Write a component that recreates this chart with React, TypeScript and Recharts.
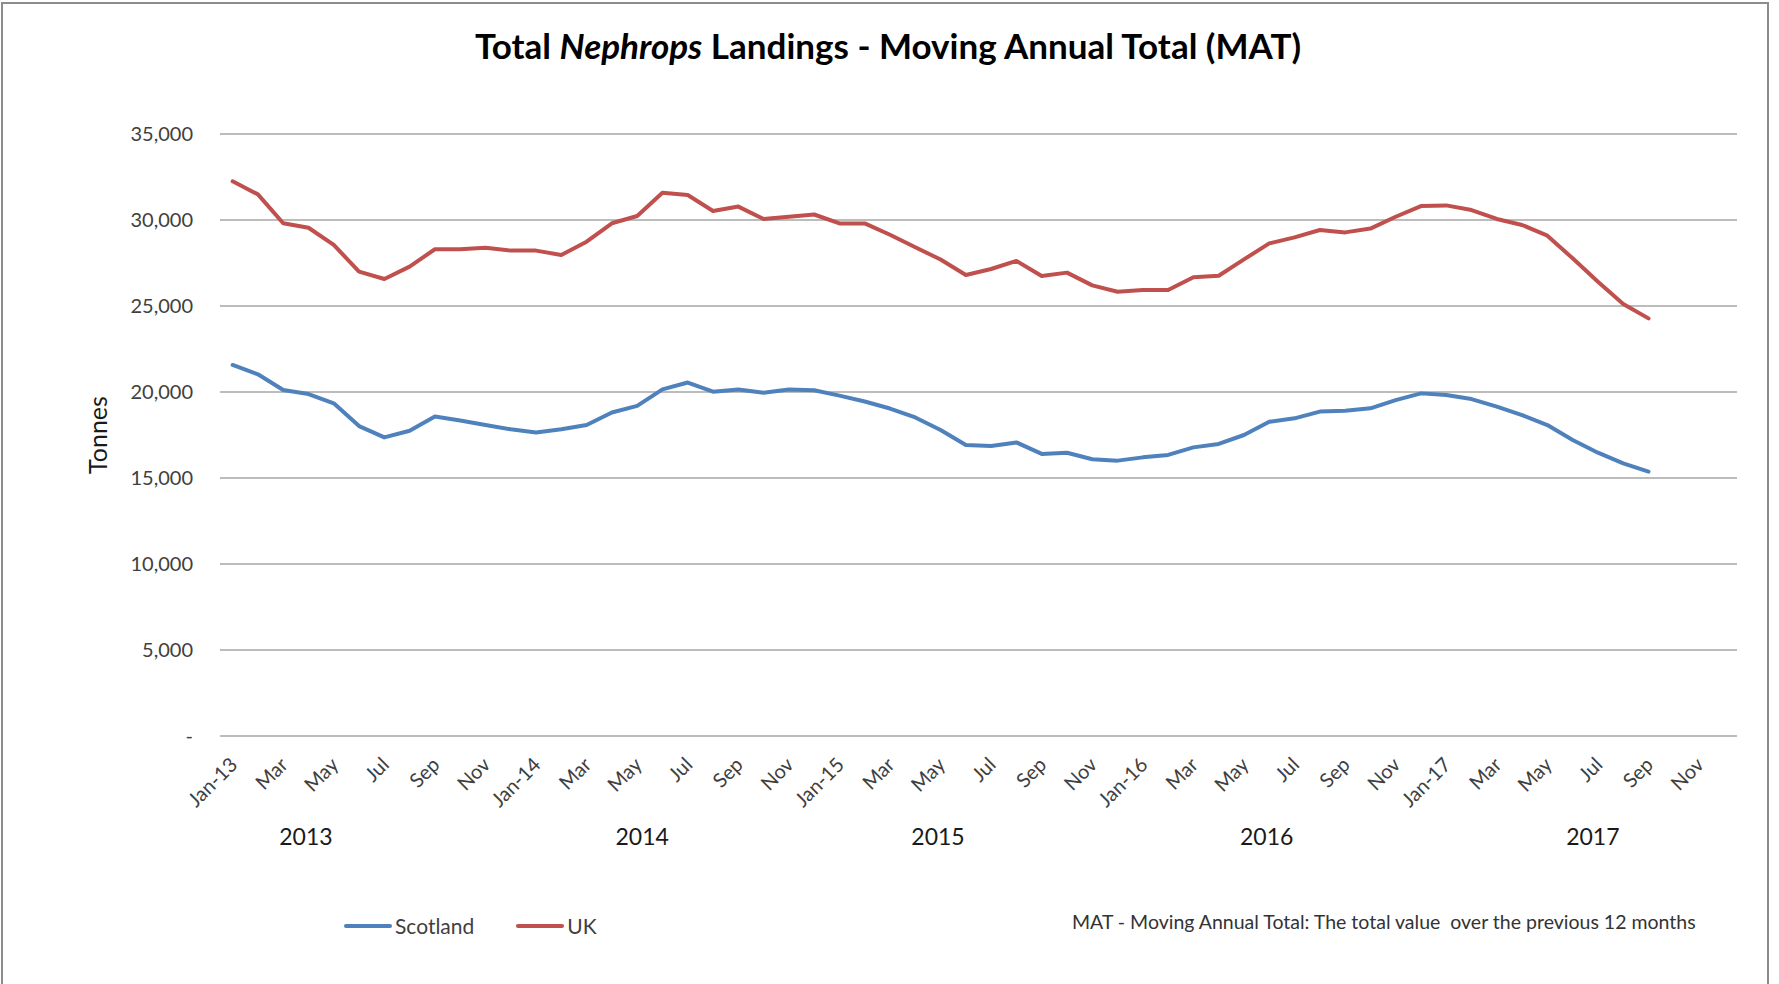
import React from 'react';
import { LineChart, Line, XAxis, YAxis, CartesianGrid, Legend } from 'recharts';

const FONT = "Lato, 'Open Sans', sans-serif";

const months = [
  'Jan-13', 'Feb-13', 'Mar-13', 'Apr-13', 'May-13', 'Jun-13', 'Jul-13', 'Aug-13', 'Sep-13', 'Oct-13', 'Nov-13', 'Dec-13',
  'Jan-14', 'Feb-14', 'Mar-14', 'Apr-14', 'May-14', 'Jun-14', 'Jul-14', 'Aug-14', 'Sep-14', 'Oct-14', 'Nov-14', 'Dec-14',
  'Jan-15', 'Feb-15', 'Mar-15', 'Apr-15', 'May-15', 'Jun-15', 'Jul-15', 'Aug-15', 'Sep-15', 'Oct-15', 'Nov-15', 'Dec-15',
  'Jan-16', 'Feb-16', 'Mar-16', 'Apr-16', 'May-16', 'Jun-16', 'Jul-16', 'Aug-16', 'Sep-16', 'Oct-16', 'Nov-16', 'Dec-16',
  'Jan-17', 'Feb-17', 'Mar-17', 'Apr-17', 'May-17', 'Jun-17', 'Jul-17', 'Aug-17', 'Sep-17', 'Oct-17', 'Nov-17', 'Dec-17',
];

// shown every second month
const tickLabels = [
  'Jan-13', 'Mar', 'May', 'Jul', 'Sep', 'Nov',
  'Jan-14', 'Mar', 'May', 'Jul', 'Sep', 'Nov',
  'Jan-15', 'Mar', 'May', 'Jul', 'Sep', 'Nov',
  'Jan-16', 'Mar', 'May', 'Jul', 'Sep', 'Nov',
  'Jan-17', 'Mar', 'May', 'Jul', 'Sep', 'Nov',
];

const scotland = [
  21570, 21030, 20120, 19880, 19340, 18020, 17360, 17750, 18570, 18340, 18080, 17830,
  17640, 17830, 18080, 18810, 19190, 20150, 20550, 20020, 20150, 19960, 20150, 20100,
  19790, 19450, 19040, 18520, 17790, 16920, 16860, 17070, 16400, 16470, 16090, 16010,
  16200, 16340, 16780, 16980, 17500, 18270, 18470, 18860, 18910, 19050, 19530, 19920,
  19830, 19590, 19150, 18660, 18080, 17210, 16470, 15850, 15370,
];

const uk = [
  32250, 31490, 29810, 29550, 28550, 27000, 26570, 27290, 28300, 28300, 28390, 28220,
  28220, 27970, 28740, 29810, 30230, 31580, 31450, 30520, 30780, 30060, 30190, 30320,
  29800, 29800, 29140, 28420, 27700, 26800, 27150, 27620, 26740, 26940, 26200, 25830,
  25930, 25930, 26670, 26760, 27710, 28640, 28990, 29420, 29280, 29500, 30190, 30810,
  30850, 30580, 30060, 29710, 29090, 27770, 26410, 25120, 24280,
];

const yTicks = [0, 5000, 10000, 15000, 20000, 25000, 30000, 35000];

const years = ['2013', '2014', '2015', '2016', '2017'];
// where each year caption sits, in month-index units
const yearAt = [2.9, 16.2, 27.9, 40.9, 53.8];

const noteText = 'MAT - Moving Annual Total: The total value  over the previous 12 months';

const rows = months.map((m, i) => ({
  idx: i,
  month: m,
  scotland: i < scotland.length ? scotland[i] : null,
  uk: i < uk.length ? uk[i] : null,
}));

const monthTicks = tickLabels.map((_, i) => i * 2);

const MonthTick = (props: any) => {
  const { x, y, payload } = props;
  const label = tickLabels[Math.round(payload.value / 2)];
  const ax = x + 6;
  const ay = y + 28;
  return (
    <text
      x={ax}
      y={ay}
      transform={`rotate(-45, ${ax}, ${ay})`}
      textAnchor='end'
      fontSize={20}
      fontFamily={FONT}
      fill='#404040'
    >
      {label}
    </text>
  );
};

const YearTick = (props: any) => {
  const { x, y, payload, index } = props;
  return (
    <text x={x} y={y + 27} textAnchor='middle' fontSize={23} fontFamily={FONT} fill='#1a1a1a'>
      {years[index] ?? payload.value}
    </text>
  );
};

const renderLegend = (props: any) => (
  <div style={{ display: 'flex', alignItems: 'center', fontFamily: FONT, fontSize: 21, color: '#404040' }}>
    {(props.payload || []).map((p: any, i: number) => (
      <div key={i} style={{ display: 'flex', alignItems: 'center', marginRight: 42 }}>
        <span style={{ display: 'inline-block', width: 48, height: 4, borderRadius: 2, background: p.color, marginRight: 3 }} />
        <span>{p.value}</span>
      </div>
    ))}
  </div>
);

const App: React.FC = () => {
  return (
    <div style={{ position: 'absolute', left: 0, top: 0, width: 1779, height: 984, background: '#fff', overflow: 'hidden' }}>
      <div
        style={{
          position: 'absolute', left: 1, top: 2, width: 1768, height: 1000,
          border: '2px solid #8c8c8c', boxSizing: 'border-box',
        }}
      />
      <div
        style={{
          position: 'absolute', left: 0, top: 25, width: 1776, textAlign: 'center',
          fontFamily: FONT, fontWeight: 700, fontSize: 35, lineHeight: '40px', color: '#000',
        }}
      >
        Total <i>Nephrops</i> Landings - Moving Annual Total (MAT)
      </div>
      <div
        style={{
          position: 'absolute', left: 1072, top: 909, whiteSpace: 'pre',
          fontFamily: FONT, fontSize: 19.5, lineHeight: '26px', color: '#333',
        }}
      >
        {noteText}
      </div>
      <LineChart
        width={1779}
        height={984}
        data={rows}
        margin={{ top: 134, right: 42, bottom: 108, left: 100 }}
      >
        <CartesianGrid xAxisId='month' vertical={false} stroke='#a6a6a6' strokeWidth={1.5} />
        <XAxis
          xAxisId='month'
          dataKey='idx'
          type='number'
          domain={[-0.5, 59.5]}
          ticks={monthTicks}
          interval={0}
          axisLine={false}
          tickLine={false}
          tickSize={0}
          height={80}
          tick={<MonthTick />}
        />
        <XAxis
          xAxisId='year'
          dataKey='idx'
          type='number'
          domain={[-0.5, 59.5]}
          ticks={yearAt}
          interval={0}
          axisLine={false}
          tickLine={false}
          tickSize={0}
          height={60}
          tick={<YearTick />}
        />
        <YAxis
          type='number'
          domain={[0, 35000]}
          ticks={yTicks}
          interval={0}
          width={120}
          axisLine={false}
          tickLine={false}
          tickSize={0}
          tickMargin={27}
          tick={{ fontSize: 20, fontFamily: FONT, fill: '#404040' }}
          tickFormatter={(v: number) => (v === 0 ? '-' : v.toLocaleString('en-US'))}
          label={{
            value: 'Tonnes',
            angle: -90,
            position: 'insideLeft',
            offset: -2,
            style: { fontSize: 25, fontFamily: FONT, fill: '#1a1a1a', textAnchor: 'middle' },
          }}
        />
        <Legend
          layout='horizontal'
          verticalAlign='middle'
          align='center'
          content={renderLegend}
          wrapperStyle={{ top: 913, left: 344, width: 400, height: 28 }}
        />
        <Line
          xAxisId='month'
          type='linear'
          dataKey='scotland'
          name='Scotland'
          stroke='#4F81BD'
          strokeWidth={4}
          strokeLinecap='round'
          strokeLinejoin='round'
          dot={false}
          isAnimationActive={false}
          connectNulls={false}
        />
        <Line
          xAxisId='month'
          type='linear'
          dataKey='uk'
          name='UK'
          stroke='#C0504D'
          strokeWidth={4}
          strokeLinecap='round'
          strokeLinejoin='round'
          dot={false}
          isAnimationActive={false}
          connectNulls={false}
        />
      </LineChart>
    </div>
  );
};

export default App;
